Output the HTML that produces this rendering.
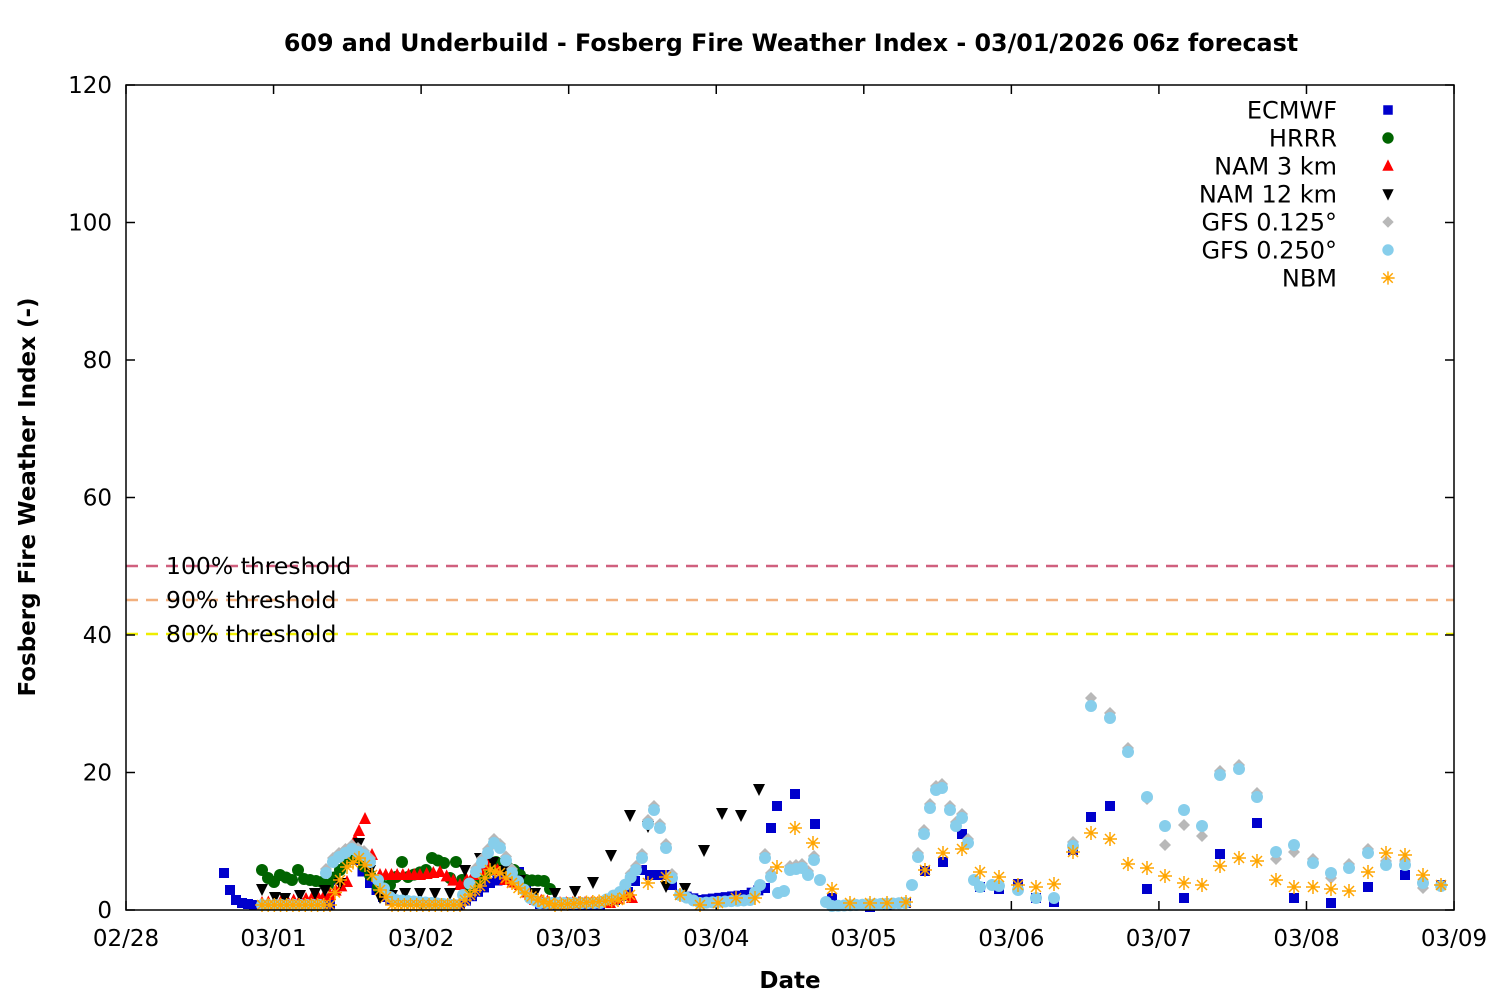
<!DOCTYPE html>
<html><head><meta charset="utf-8"><style>
body{margin:0;background:#fff}
svg{display:block;font-family:"DejaVu Sans","Liberation Sans",sans-serif}
</style></head><body>
<svg id="s" width="1500" height="1000" xmlns="http://www.w3.org/2000/svg">
<rect width="1500" height="1000" fill="#fff"/>
<text x="791" y="51" text-anchor="middle" font-size="23.8" font-weight="bold">609 and Underbuild - Fosberg Fire Weather Index - 03/01/2026 06z forecast</text>
<g id="thr">
<line x1="126" y1="566" x2="1454" y2="566" stroke="#d0607f" stroke-width="2.5" stroke-dasharray="12,8"/>
<line x1="126" y1="600" x2="1454" y2="600" stroke="#f2b07e" stroke-width="2.5" stroke-dasharray="12,8"/>
<line x1="126" y1="634" x2="1454" y2="634" stroke="#eeee00" stroke-width="2.5" stroke-dasharray="12,8"/>
<g font-size="23.5" fill="#000">
<text x="166" y="574">100% threshold</text>
<text x="166" y="608">90% threshold</text>
<text x="166" y="642">80% threshold</text>
</g></g>
<g id="axes" font-size="23"></g>
<g id="pts"></g>
<g id="leg" font-size="24" text-anchor="end"></g>
<text x="790" y="988" text-anchor="middle" font-size="23" font-weight="bold">Date</text>
<text transform="translate(35,497) rotate(-90)" text-anchor="middle" font-size="23" font-weight="bold">Fosberg Fire Weather Index (-)</text>
<rect x="126" y="85" width="1328" height="825" fill="none" stroke="#000" stroke-width="1.5"/>
</svg>
<script>
var NS="http://www.w3.org/2000/svg";
function el(p,t,a,txt){var e=document.createElementNS(NS,t);for(var k in a)e.setAttribute(k,a[k]);if(txt!=null)e.textContent=txt;p.appendChild(e);return e;}
var ax=document.getElementById('axes');
for(var i=0;i<=6;i++){var y=910-i*137.5;
el(ax,'line',{x1:126,y1:y,x2:135,y2:y,stroke:'#000','stroke-width':1.5});
el(ax,'line',{x1:1445,y1:y,x2:1454,y2:y,stroke:'#000','stroke-width':1.5});
el(ax,'text',{x:112,y:y+8,'text-anchor':'end'},String(i*20));}
var dl=['02/28','03/01','03/02','03/03','03/04','03/05','03/06','03/07','03/08','03/09'];
for(var i=0;i<10;i++){var x=126+i*147.56;
el(ax,'line',{x1:x,y1:910,x2:x,y2:901,stroke:'#000','stroke-width':1.5});
el(ax,'line',{x1:x,y1:85,x2:x,y2:94,stroke:'#000','stroke-width':1.5});
el(ax,'text',{x:x,y:946,'text-anchor':'middle'},dl[i]);}
function interp(cp,step){var out=[];for(var i=0;i<cp.length-1;i++){var a=cp[i],b=cp[i+1];var n=Math.max(1,Math.round((b[0]-a[0])/step));for(var j=0;j<n;j++)out.push([a[0]+(b[0]-a[0])*j/n,a[1]+(b[1]-a[1])*j/n]);}out.push(cp[cp.length-1]);return out;}
var g=document.getElementById('pts');
function mark(p,type,x,y){
 if(type=='sq')el(p,'rect',{x:x-5,y:y-5,width:10,height:10,fill:'#0000cc'});
 else if(type=='ci')el(p,'circle',{cx:x,cy:y,r:6,fill:'#006400'});
 else if(type=='tu')el(p,'polygon',{points:(x-6)+','+(y+5)+' '+(x+6)+','+(y+5)+' '+x+','+(y-7),fill:'#ff0000'});
 else if(type=='td')el(p,'polygon',{points:(x-6)+','+(y-5)+' '+(x+6)+','+(y-5)+' '+x+','+(y+7),fill:'#000'});
 else if(type=='di')el(p,'polygon',{points:x+','+(y-6)+' '+(x+6)+','+y+' '+x+','+(y+6)+' '+(x-6)+','+y,fill:'#b8b8b8'});
 else if(type=='hx')el(p,'circle',{cx:x,cy:y,r:6,fill:'#87ceeb'});
 else if(type=='st'){var d='M'+(x-7)+' '+y+'h14M'+x+' '+(y-7)+'v14M'+(x-5)+' '+(y-5)+'l10 10M'+(x-5)+' '+(y+5)+'l10 -10';el(p,'path',{d:d,stroke:'#ffa500','stroke-width':1.5,fill:'none'});}
}
function draw(pts,type){pts.forEach(function(q){mark(g,type,q[0],q[1]);});}
var ecm=interp([[224,873],[230,890],[236,900],[242,903],[254,905],[330,905],[341,855],[355,860],[370,883],[383,897],[390,900],[460,905],[490,883],[505,878],[519,872],[526,885],[533,895],[540,904],[600,905],[615,900],[628,892],[642,870],[650,875],[666,875],[672,885],[680,895],[700,900],[745,895],[765,888]],6.15)
.concat([[771,828],[777,806],[795,794],[815,824],[832,898],[850,905],[870,907],[887,905],[906,903],[925,871],[943,862],[962,834],[980,887],[999,889],[1018,884],[1036,898],[1054,902],[1073,850],[1091,817],[1110,806],[1147,889],[1184,898],[1220,854],[1257,823],[1294,898],[1331,903],[1368,887],[1405,875],[1441,885]]);
var hrrr=interp([[262,870],[268,878],[274,882],[280,875],[292,880],[298,870],[304,879],[322,882],[328,885],[340,870],[352,855],[358,858],[370,875],[378,887],[390,885],[396,877],[402,862],[408,877],[426,870],[432,858],[444,863],[450,878],[456,862],[462,880],[468,890],[490,870],[496,862],[514,870],[526,880],[544,881],[550,889]],6.15);
var nam3=interp([[262,903],[300,900],[330,895],[347,882],[355,840],[359,831],[365,819],[372,855],[380,875],[420,875],[440,872],[460,885],[480,870],[490,860],[505,880],[520,885],[535,900],[560,903],[610,903],[625,895],[632,898]],6.15);
var nam12=[[262,889],[275,897],[285,898],[300,895],[315,893],[325,890],[340,883],[355,850],[359,843],[370,870],[380,897],[392,895],[405,893],[420,893],[435,893],[450,893],[465,870],[480,858],[493,862],[505,870],[520,880],[535,893],[555,893],[575,891],[593,882],[611,855],[630,815],[648,826],[666,886],[685,888],[704,850],[722,813],[741,815],[759,789]];
var gfs=interp([[262,905],[320,905],[326,873],[333,862],[339,857],[352,849],[364,855],[370,862],[378,880],[390,897],[396,900],[455,905],[463,895],[476,872],[488,853],[494,843],[500,848],[512,873],[530,898],[540,903],[600,903],[620,892],[636,870],[642,858],[648,824],[654,810],[660,828],[666,848],[672,878],[680,895],[700,903],[750,900],[760,885],[765,858],[771,877],[778,893],[784,891],[790,870],[802,868],[808,875],[814,860],[820,880],[826,902],[832,906],[905,903]],6.15)
.concat([[912,885],[918,857],[924,834],[930,808],[936,790],[942,788],[950,810],[956,826],[962,818],[968,843],[974,880],[980,887],[992,885],[999,886],[1018,890],[1036,898],[1054,898],[1073,846],[1091,706],[1110,718],[1128,752],[1147,797],[1165,826],[1184,810],[1202,826],[1220,775],[1239,769],[1257,797],[1276,852],[1294,845],[1313,863],[1331,873],[1349,868],[1368,853],[1386,865],[1405,865],[1423,883],[1441,886]]);
var gfs1=gfs.map(function(p){var x=p[0],y=p[1];
 var adj={1091:698,1110:713,1147:799,1165:845,1184:825,1202:836,1276:859,1294:852,1331:878,1423:888};
 var k=Math.round(x);if(adj[k])return[x,adj[k]];return[x,y<880?y-4:y];});
var nbm=interp([[262,905],[330,905],[340,880],[347,867],[359,858],[365,865],[372,875],[380,890],[386,897],[392,905],[460,905],[470,895],[480,886],[490,870],[500,873],[512,883],[525,893],[538,900],[555,905],[618,900],[630,895]],6.15)
.concat([[648,883],[666,877],[680,895],[700,905],[718,903],[736,898],[755,898],[777,867],[795,828],[813,843],[832,889],[850,903],[870,903],[887,903],[906,902],[925,870],[943,853],[962,849],[980,872],[999,877],[1018,885],[1036,887],[1054,884],[1073,852],[1091,833],[1110,839],[1128,864],[1147,868],[1165,876],[1184,883],[1202,885],[1220,866],[1239,858],[1257,861],[1276,880],[1294,887],[1313,887],[1331,889],[1349,891],[1368,872],[1386,853],[1405,855],[1423,875],[1441,885]]);
draw(ecm,'sq');draw(hrrr,'ci');draw(nam3,'tu');draw(nam12,'td');draw(gfs1,'di');draw(gfs,'hx');draw(nbm,'st');
var lg=document.getElementById('leg');
var names=['ECMWF','HRRR','NAM 3 km','NAM 12 km','GFS 0.125°','GFS 0.250°','NBM'];
var types=['sq','ci','tu','td','di','hx','st'];
for(var i=0;i<7;i++){var y=110+i*28;el(lg,'text',{x:1337,y:y+8.5},names[i]);
 var s=0.95;var gg=el(lg,'g',{transform:'translate(1388,'+y+') scale('+s+') translate(-1388,-'+y+')'});mark(gg,types[i],1388,y);}
</script>
</body></html>
